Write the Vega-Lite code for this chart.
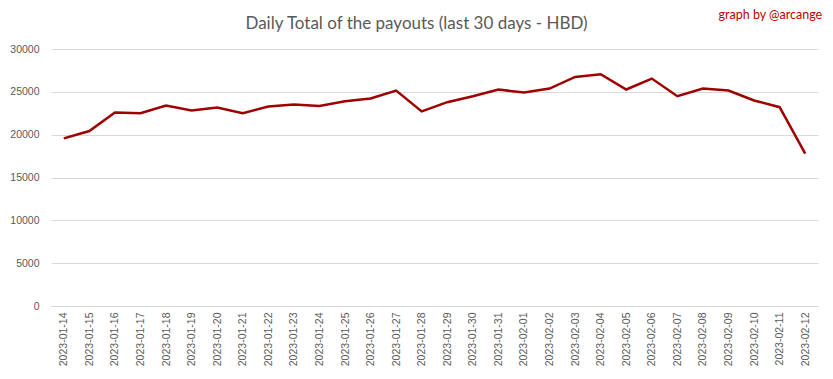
{
  "$schema": "https://vega.github.io/schema/vega-lite/v6.json",
  "width": 767,
  "height": 257,
  "autosize": "none",
  "padding": {"left": 51, "top": 49, "right": 15, "bottom": 73},
  "background": "white",
  "config": {
    "view": {"stroke": null},
    "font": "Lato"
  },
  "title": {
    "text": "Daily Total of the payouts (last 30 days - HBD)",
    "anchor": "middle",
    "frame": "group",
    "dx": -18,
    "dy": 41,
    "offset": 17,
    "fontSize": 17,
    "fontWeight": "normal",
    "color": "#595959",
    "font": "Lato"
  },
  "data": {
    "values": [
      {"date": "2023-01-14", "payout": 19570},
      {"date": "2023-01-15", "payout": 20420},
      {"date": "2023-01-16", "payout": 22590},
      {"date": "2023-01-17", "payout": 22510},
      {"date": "2023-01-18", "payout": 23400},
      {"date": "2023-01-19", "payout": 22830},
      {"date": "2023-01-20", "payout": 23170},
      {"date": "2023-01-21", "payout": 22510},
      {"date": "2023-01-22", "payout": 23290},
      {"date": "2023-01-23", "payout": 23510},
      {"date": "2023-01-24", "payout": 23340},
      {"date": "2023-01-25", "payout": 23900},
      {"date": "2023-01-26", "payout": 24220},
      {"date": "2023-01-27", "payout": 25150},
      {"date": "2023-01-28", "payout": 22710},
      {"date": "2023-01-29", "payout": 23790},
      {"date": "2023-01-30", "payout": 24490},
      {"date": "2023-01-31", "payout": 25270},
      {"date": "2023-02-01", "payout": 24920},
      {"date": "2023-02-02", "payout": 25380},
      {"date": "2023-02-03", "payout": 26740},
      {"date": "2023-02-04", "payout": 27050},
      {"date": "2023-02-05", "payout": 25270},
      {"date": "2023-02-06", "payout": 26550},
      {"date": "2023-02-07", "payout": 24490},
      {"date": "2023-02-08", "payout": 25380},
      {"date": "2023-02-09", "payout": 25150},
      {"date": "2023-02-10", "payout": 23990},
      {"date": "2023-02-11", "payout": 23210},
      {"date": "2023-02-12", "payout": 17790}
    ]
  },
  "layer": [
    {
      "mark": {"type": "line", "color": "#9E0000", "strokeWidth": 2.5, "strokeJoin": "miter"},
      "encoding": {
        "x": {
          "field": "date",
          "type": "ordinal",
          "sort": null,
          "scale": {"type": "point", "padding": 0.5},
          "axis": {
            "title": null,
            "labelAngle": -90,
            "labelFontSize": 10.5,
            "labelColor": "#595959",
            "labelFont": "Liberation Sans",
            "labelPadding": 6,
            "ticks": false,
            "domainColor": "#d9d9d9",
            "domainWidth": 1
          }
        },
        "y": {
          "field": "payout",
          "type": "quantitative",
          "scale": {"domain": [0, 30000], "nice": false},
          "axis": {
            "title": null,
            "values": [0, 5000, 10000, 15000, 20000, 25000, 30000],
            "format": "d",
            "labelFontSize": 10.5,
            "labelColor": "#595959",
            "labelFont": "Liberation Sans",
            "labelPadding": 12,
            "ticks": false,
            "domain": false,
            "gridColor": "#d9d9d9",
            "gridWidth": 1
          }
        }
      }
    },
    {
      "data": {"values": [{"label": "graph by @arcange", "date": "2023-02-12", "ypos": 34000}]},
      "mark": {"type": "text", "color": "#C00000", "fontSize": 12.5, "align": "right", "baseline": "middle", "dx": 17, "clip": false, "font": "Lato"},
      "encoding": {
        "x": {"field": "date", "type": "ordinal"},
        "y": {"field": "ypos", "type": "quantitative"},
        "text": {"field": "label"}
      }
    }
  ]
}
